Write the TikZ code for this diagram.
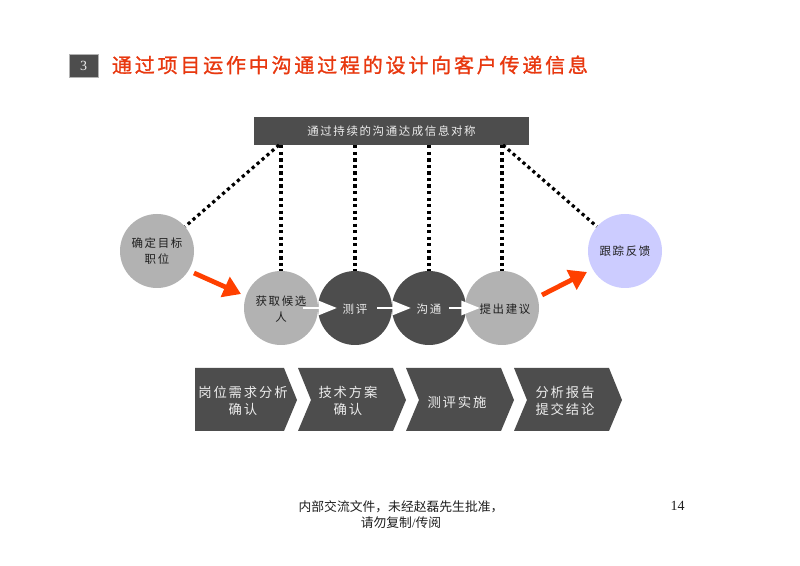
\documentclass[tikz,border=0pt]{standalone}
\usepackage{fontspec}
\setmainfont{Noto Sans CJK SC}
\newfontfamily\cjkls[LetterSpace=14]{Noto Sans CJK SC}
\newfontfamily\cjktitle[LetterSpace=14,FakeBold=1.2]{Noto Sans CJK SC}
\newfontfamily\latinser{Liberation Serif}
\usetikzlibrary{arrows.meta}
\definecolor{darkfill}{HTML}{4D4D4D}
\definecolor{grayfill}{HTML}{B2B2B2}
\definecolor{bluefill}{HTML}{CCCCFF}
\definecolor{redtone}{HTML}{FF4000}
\definecolor{titlered}{HTML}{E8380F}
\definecolor{inktext}{HTML}{1F1F1F}
\definecolor{palefont}{HTML}{EDEDED}
\tikzset{
  ball/.style={circle,minimum size=55.5pt,inner sep=0pt,align=center,font=\fontsize{8.6pt}{12pt}\cjkls},
  ballgray/.style={ball,fill=grayfill,text=inktext},
  balldark/.style={ball,fill=darkfill},
  ballblue/.style={ball,fill=bluefill,text=inktext},
  lbl/.style={inner sep=0pt,align=center},
  dotline/.style={line width=2.4pt,black,dash pattern=on 2.4pt off 2.5pt},
  redarrow/.style={line width=3.6pt,redtone,-{Triangle[length=13pt,width=16pt]},shorten >=0pt},
  whitearrow/.style={line width=2.2pt,white,-{Triangle[length=14pt,width=10.5pt]}},
  chev/.style={fill=darkfill,draw=none},
  chevtext/.style={lbl,text=palefont,font=\fontsize{10pt}{13pt}\cjkls},
}
\begin{document}
\begin{tikzpicture}[x=0.75pt,y=-0.75pt]
\useasboundingbox[fill=white] (0,0) rectangle (800,566);

% title
\node[fill=darkfill,draw=grayfill,line width=0.4pt,minimum width=21.5pt,minimum height=17.5pt,inner sep=0pt,text=palefont,font=\fontsize{10.5pt}{12pt}\latinser] (num) at (83.5,66) {3};
\node[lbl,text=titlered,font=\fontsize{15pt}{20pt}\cjktitle] (title) at (350,65) {通过项目运作中沟通过程的设计向客户传递信息};

% top bar
\node[fill=darkfill,minimum width=206pt,minimum height=21pt,inner sep=0pt,text=palefont,font=\fontsize{8.6pt}{12pt}\cjkls] (bar) at (391.5,131) {通过持续的沟通达成信息对称};
\coordinate (barL) at (279,145);
\coordinate (barR) at (503,145);

% circles
\node[ballgray] (c1) at (157,251) {确定目标\\职位};
\node[ballgray] (c2) at (281,308) {};
\node[balldark] (c3) at (355,308) {};
\node[balldark] (c4) at (429,308) {};
\node[ballgray] (c5) at (502,308) {};
\node[ballblue] (c6) at (625,251) {跟踪反馈};

% dotted links
\draw[dotline] (barL) -- (c1);
\draw[dotline] (bar.south -| c2.north) -- (c2.north);
\draw[dotline] (bar.south -| c3.north) -- (c3.north);
\draw[dotline] (bar.south -| c4.north) -- (c4.north);
\draw[dotline] (bar.south -| c5.north) -- (c5.north);
\draw[dotline] (barR) -- (c6);

% red arrows
\coordinate (ra1) at (194,273);
\coordinate (rb1) at (241,294);
\coordinate (ra2) at (542,295);
\coordinate (rb2) at (587,272);
\draw[redarrow] (ra1) -- (rb1);
\draw[redarrow] (ra2) -- (rb2);

% white arrows
\coordinate (wa1) at (303,308);
\coordinate (wb1) at (337,308);
\coordinate (wa2) at (377,308);
\coordinate (wb2) at (411,308);
\coordinate (wa3) at (449,308);
\coordinate (wb3) at (480,308);
\draw[whitearrow] (wa1) -- (wb1);
\draw[whitearrow] (wa2) -- (wb2);
\draw[whitearrow] (wa3) -- (wb3);

% circle labels on top of the arrows
\node[lbl,text=inktext,font=\fontsize{8.6pt}{12pt}\cjkls] (t2) at (281,309) {获取候选\\人};
\node[lbl,text=palefont,font=\fontsize{8.6pt}{12pt}\cjkls] (t3) at (355,309) {测评};
\node[lbl,text=palefont,font=\fontsize{8.6pt}{12pt}\cjkls] (t4) at (429,309) {沟通};
\node[lbl,text=inktext,font=\fontsize{8.6pt}{12pt}\cjkls] (t5) at (505,309) {提出建议};

% chevrons
\fill[chev] (195,368) -- (284,368) -- (297,400) -- (284,431) -- (195,431) -- cycle;
\fill[chev] (298,368) -- (393,368) -- (406,400) -- (393,431) -- (298,431) -- (311,400) -- cycle;
\fill[chev] (406,368) -- (501,368) -- (514,400) -- (501,431) -- (406,431) -- (419,400) -- cycle;
\fill[chev] (514,368) -- (609,368) -- (622,400) -- (609,431) -- (514,431) -- (527,400) -- cycle;
\node[chevtext] (s1) at (243,401) {岗位需求分析\\确认};
\node[chevtext] (s2) at (348,401) {技术方案\\确认};
\node[chevtext] (s3) at (457,402) {测评实施};
\node[chevtext] (s4) at (565,401) {分析报告\\提交结论};

% footer
\node[lbl,font=\fontsize{9.6pt}{11.4pt}\selectfont,text=inktext] (foot) at (401,514.5) {内部交流文件，未经赵磊先生批准，\\请勿复制{\latinser /}传阅};
\node[lbl,font=\fontsize{10.5pt}{12pt}\latinser,text=inktext] (page) at (677.5,506) {14};
\end{tikzpicture}
\end{document}
